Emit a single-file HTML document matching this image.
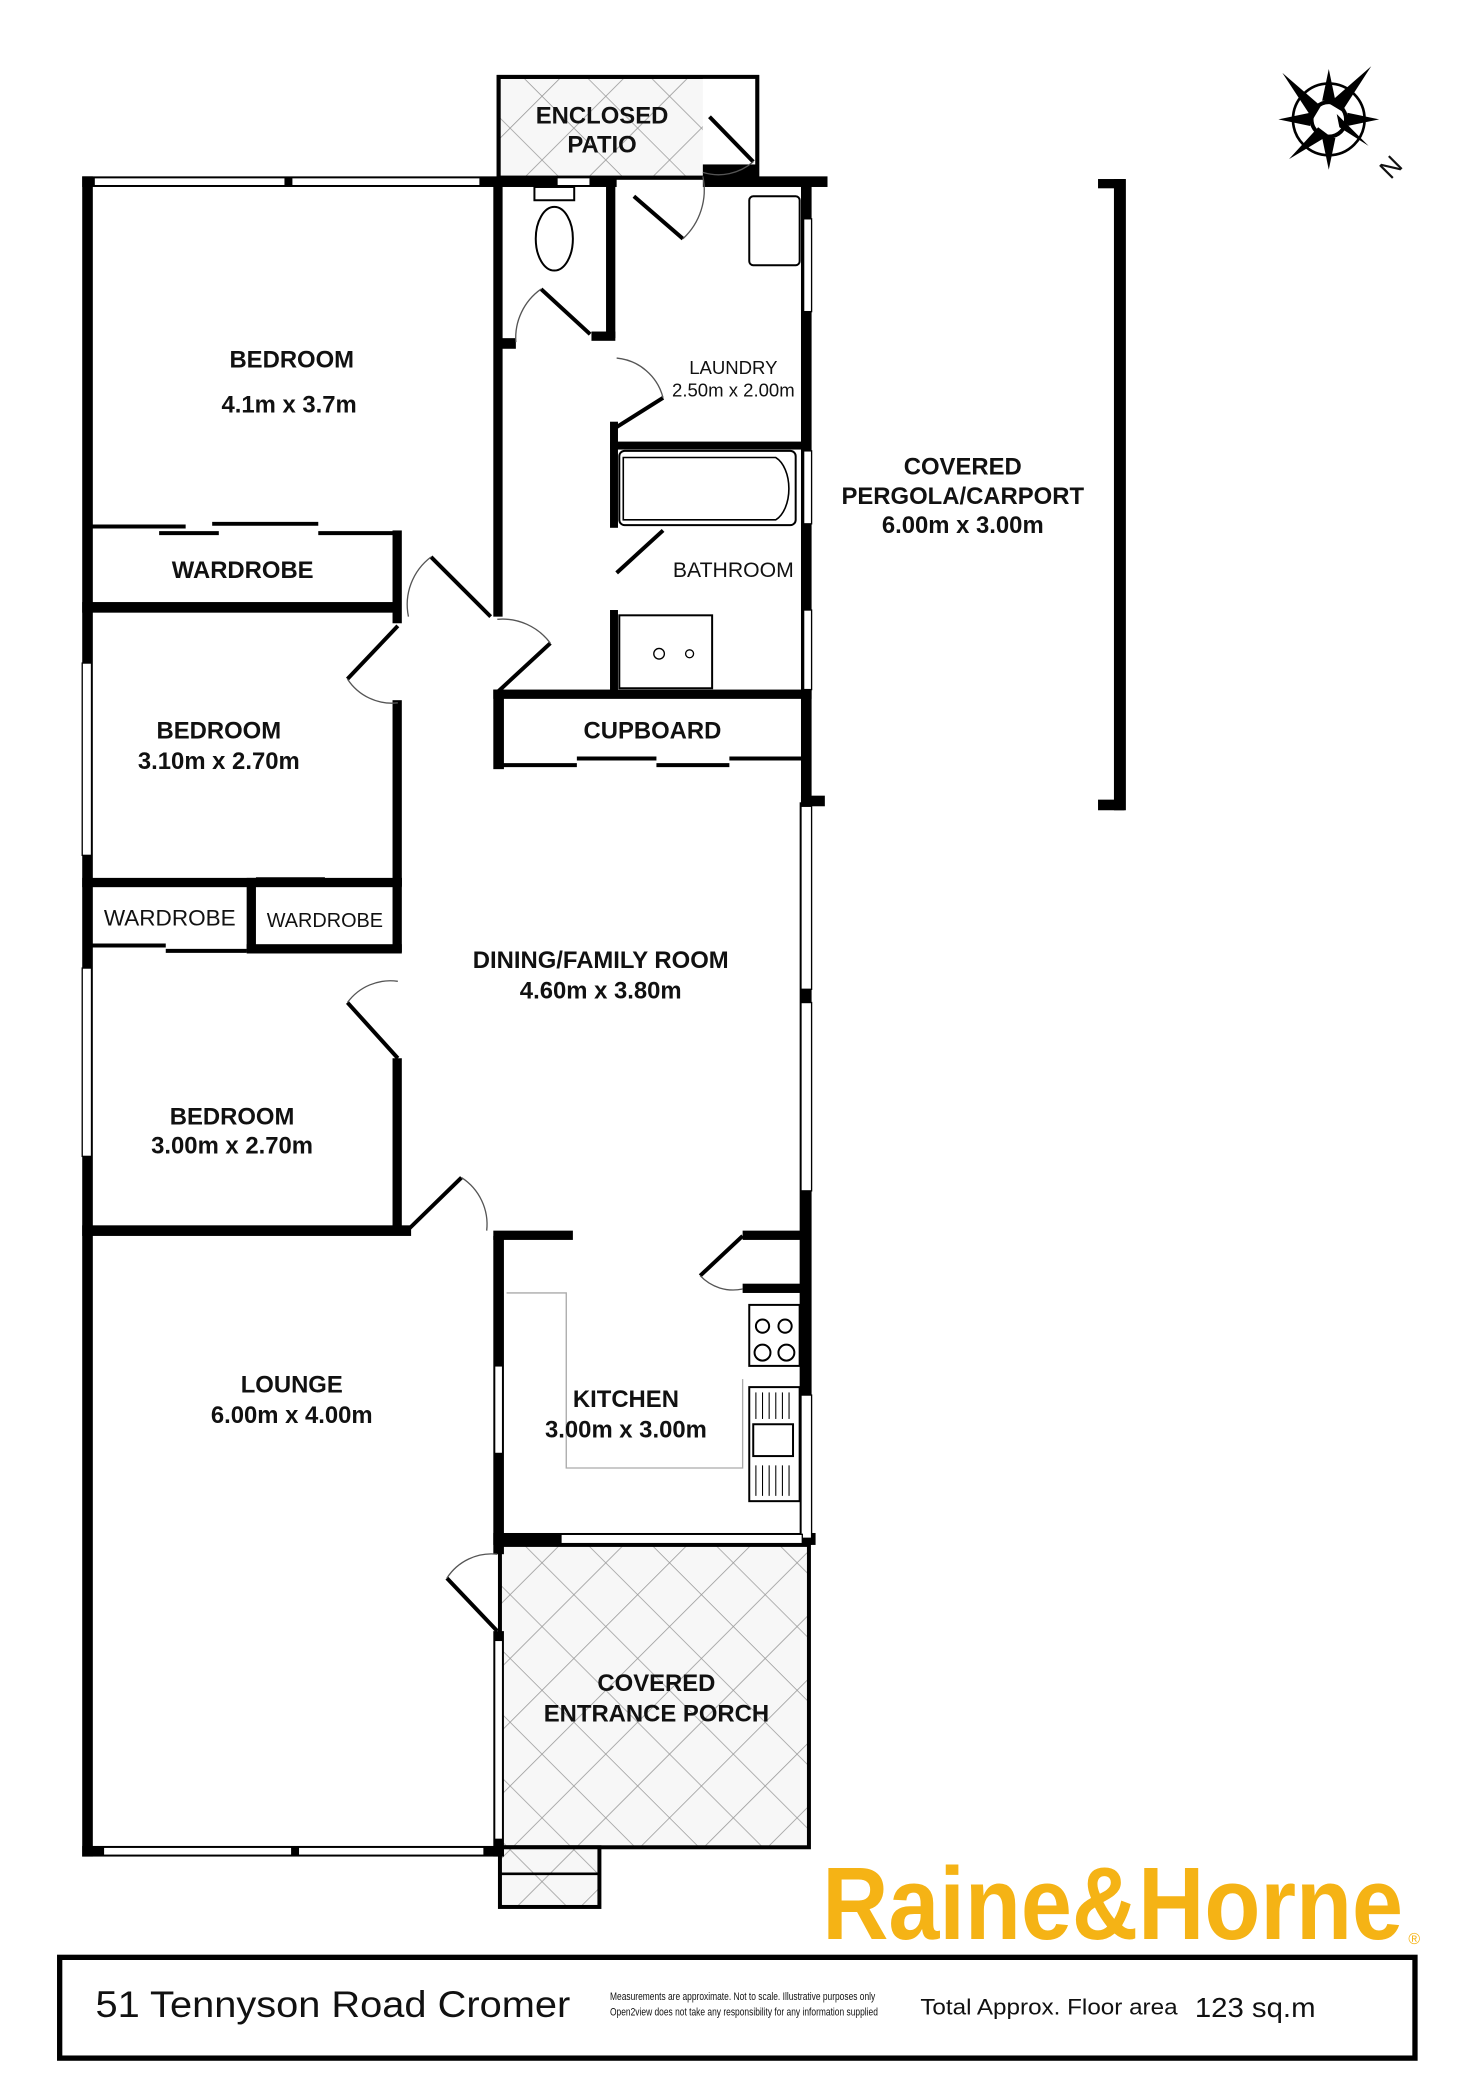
<!DOCTYPE html>
<html><head><meta charset="utf-8"><style>
html,body{margin:0;padding:0;background:#fff;}
svg{display:block;}
text{font-family:"Liberation Sans",sans-serif;fill:#111;}
.b{font-weight:bold;}
</style></head><body>
<svg width="1472" height="2082" viewBox="0 0 1110 1570" preserveAspectRatio="none" xmlns="http://www.w3.org/2000/svg">
<defs>
<pattern id="hatch" width="34" height="34" patternUnits="userSpaceOnUse" patternTransform="rotate(45)">
<rect width="34" height="34" fill="#f7f7f7"/>
<line x1="0" y1="0" x2="34" y2="0" stroke="#999" stroke-width="1.2"/>
<line x1="0" y1="0" x2="0" y2="34" stroke="#999" stroke-width="1.2"/>
</pattern>
</defs>
<rect width="1110" height="1570" fill="#fff"/>

<rect x="376" y="58" width="195" height="76" fill="url(#hatch)" stroke="#000" stroke-width="3"/>
<rect x="530" y="58" width="40" height="76" fill="#fff"/>
<rect x="376" y="58" width="195" height="76" fill="none" stroke="#000" stroke-width="3"/>
<rect x="377" y="1165" width="233" height="228" fill="url(#hatch)" stroke="#000" stroke-width="3"/>
<rect x="377" y="1393" width="75" height="45" fill="url(#hatch)" stroke="#000" stroke-width="3"/>
<line x1="377" y1="1413" x2="452" y2="1413" stroke="#000" stroke-width="2"/>

<g fill="#000">
<rect x="62" y="133" width="8" height="1267"/>
<rect x="62" y="133" width="315" height="8"/>
<rect x="375" y="133" width="90" height="8"/>
<rect x="530" y="133" width="94" height="8"/>
<rect x="604" y="137" width="8" height="470"/>
<rect x="604" y="600" width="18" height="8"/>
<rect x="603" y="605" width="9" height="560"/>
<rect x="372" y="1156" width="243" height="9"/>
<rect x="372" y="932" width="8" height="240"/>
<rect x="372" y="1230" width="8" height="170"/>
<rect x="62" y="1392" width="318" height="8"/>
<rect x="372" y="137" width="7" height="328"/>
<rect x="375" y="255" width="14" height="8"/>
<rect x="457" y="137" width="7" height="118"/>
<rect x="446" y="250" width="18" height="7"/>
<rect x="460" y="318" width="6" height="20"/>
<rect x="460" y="333" width="150" height="6"/>
<rect x="460" y="338" width="6" height="60"/>
<rect x="460" y="460" width="6" height="64"/>
<rect x="372" y="520" width="240" height="7"/>
<rect x="372" y="520" width="8" height="60"/>
<rect x="62" y="454" width="240" height="8"/>
<rect x="296" y="400" width="7" height="70"/>
<rect x="296" y="528" width="7" height="140"/>
<rect x="62" y="662" width="241" height="7"/>
<rect x="186" y="662" width="7" height="56"/>
<rect x="186" y="712" width="117" height="7"/>
<rect x="296" y="662" width="7" height="56"/>
<rect x="296" y="798" width="7" height="130"/>
<rect x="62" y="924" width="248" height="8"/>
<rect x="372" y="928" width="60" height="7"/>
<rect x="560" y="928" width="50" height="7"/>
<rect x="560" y="968" width="45" height="7"/>
<rect x="840" y="135" width="9" height="476"/>
<rect x="828" y="135" width="20" height="7"/>
<rect x="828" y="603" width="20" height="8"/>
<rect x="530" y="124" width="40" height="10"/>
</g>

<g fill="#fff" stroke="#000" stroke-width="1">
<rect x="71" y="134" width="144" height="6"/>
<rect x="220" y="134" width="142" height="6"/>
<rect x="420" y="134" width="25" height="6"/>
<rect x="606" y="165" width="6" height="70"/>
<rect x="606" y="340" width="6" height="55"/>
<rect x="606" y="460" width="6" height="60"/>
<rect x="604" y="608" width="8" height="138"/>
<rect x="604" y="756" width="8" height="142"/>
<rect x="604" y="1052" width="8" height="108"/>
<rect x="62" y="500" width="7" height="145"/>
<rect x="62" y="730" width="7" height="142"/>
<rect x="373" y="1030" width="6" height="66"/>
<rect x="373" y="1237" width="6" height="150"/>
<rect x="78" y="1393" width="142" height="6"/>
<rect x="225" y="1393" width="140" height="6"/>
<rect x="423" y="1157" width="182" height="7"/>
</g>

<g stroke="#000" stroke-width="3">
<line x1="68" y1="397" x2="140" y2="397"/><line x1="120" y1="402" x2="165" y2="402"/>
<line x1="160" y1="395" x2="240" y2="395"/><line x1="240" y1="402" x2="300" y2="402"/>
<line x1="378" y1="577" x2="435" y2="577"/><line x1="435" y1="572" x2="495" y2="572"/>
<line x1="495" y1="577" x2="550" y2="577"/><line x1="550" y1="572" x2="605" y2="572"/>
<line x1="68" y1="713" x2="125" y2="713"/><line x1="125" y1="717" x2="186" y2="717"/>
<line x1="193" y1="663" x2="245" y2="663"/>
</g>

<g stroke="#000" stroke-width="3" fill="none">
<line x1="325" y1="420" x2="370" y2="465"/>
<line x1="300" y1="472" x2="262" y2="512"/>
<line x1="415" y1="485" x2="375" y2="522"/>
<line x1="300" y1="798" x2="262" y2="756"/>
<line x1="307" y1="928" x2="348" y2="888"/>
<line x1="528" y1="962" x2="560" y2="932"/>
<line x1="337" y1="1190" x2="375" y2="1230"/>
<line x1="408" y1="218" x2="445" y2="252"/>
<line x1="500" y1="300" x2="465" y2="322"/>
<line x1="500" y1="400" x2="465" y2="432"/>
<line x1="478" y1="148" x2="515" y2="180"/>
<line x1="535" y1="88" x2="568" y2="122"/>
</g>
<g stroke="#555" stroke-width="1" fill="none">
<path d="M325 420 A45 45 0 0 0 308 465"/>
<path d="M262 512 A40 40 0 0 0 300 530"/>
<path d="M415 485 A45 45 0 0 0 375 467"/>
<path d="M262 756 A40 40 0 0 1 300 740"/>
<path d="M348 888 A42 42 0 0 1 367 928"/>
<path d="M528 962 A34 34 0 0 0 560 972"/>
<path d="M337 1190 A40 40 0 0 1 375 1172"/>
<path d="M408 218 A45 45 0 0 0 389 258"/>
<path d="M465 270 A40 40 0 0 1 500 300"/>
<path d="M515 180 A50 50 0 0 0 530 133"/>
<path d="M568 122 A40 40 0 0 1 530 130"/>
</g>

<g stroke="#000" stroke-width="1.5" fill="#fff">
<rect x="403" y="141" width="30" height="10"/>
<ellipse cx="418" cy="180" rx="14" ry="24"/>
<rect x="565" y="148" width="38" height="52" rx="3"/>
<rect x="467" y="340" width="133" height="56" rx="4"/>
<rect x="467" y="464" width="70" height="55"/>
<rect x="565" y="984" width="38" height="46"/>
<circle cx="575" cy="1000" r="5"/><circle cx="592" cy="1000" r="5"/>
<circle cx="575" cy="1020" r="6"/><circle cx="593" cy="1020" r="6"/>
<rect x="565" y="1046" width="38" height="86"/>
<rect x="568" y="1074" width="30" height="24"/>
</g>
<path d="M470 345 H585 A15 25 0 0 1 585 392 H470 Z" fill="none" stroke="#000" stroke-width="1.2"/>
<circle cx="497" cy="493" r="4" fill="none" stroke="#000"/><circle cx="520" cy="493" r="3" fill="none" stroke="#000"/>
<polyline points="382,975 427,975 427,1107 560,1107 560,1040" fill="none" stroke="#aaa" stroke-width="1"/>
<g stroke="#000" stroke-width="0.8">
<line x1="570" y1="1050" x2="570" y2="1070"/><line x1="575" y1="1050" x2="575" y2="1070"/><line x1="580" y1="1050" x2="580" y2="1070"/><line x1="585" y1="1050" x2="585" y2="1070"/><line x1="590" y1="1050" x2="590" y2="1070"/><line x1="595" y1="1050" x2="595" y2="1070"/>
<line x1="570" y1="1105" x2="570" y2="1128"/><line x1="575" y1="1105" x2="575" y2="1128"/><line x1="580" y1="1105" x2="580" y2="1128"/><line x1="585" y1="1105" x2="585" y2="1128"/><line x1="590" y1="1105" x2="590" y2="1128"/><line x1="595" y1="1105" x2="595" y2="1128"/>
</g>

<g transform="translate(1002,90)">
<circle r="27" fill="none" stroke="#000" stroke-width="2"/>
<circle r="13" fill="#fff" stroke="#000" stroke-width="3"/>
<polygon points="-35,-35 -6,-10 -12,0" fill="#000"/>
<polygon points="32,-40 10,-6 0,-12" fill="#000"/>
<polygon points="-30,30 -8,6 0,12" fill="#000"/>
<polygon points="30,20 8,6 6,-4" fill="#000"/>
<polygon points="0,-38 -5,-14 5,-14" fill="#000"/>
<polygon points="0,38 -5,14 5,14" fill="#000"/>
<polygon points="-38,0 -14,-5 -14,5" fill="#000"/>
<polygon points="38,0 14,-5 14,5" fill="#000"/>
<text x="40" y="42" font-size="20" transform="rotate(-45 48 36)">N</text>
</g>

<g font-size="18" text-anchor="middle" class="b">
<text x="454" y="93">ENCLOSED</text>
<text x="454" y="115">PATIO</text>
<text x="220" y="277">BEDROOM</text>
<text x="218" y="311">4.1m x 3.7m</text>
<text x="183" y="436">WARDROBE</text>
<text x="165" y="557">BEDROOM</text>
<text x="165" y="580">3.10m x 2.70m</text>
<text x="175" y="848">BEDROOM</text>
<text x="175" y="870">3.00m x 2.70m</text>
<text x="220" y="1050">LOUNGE</text>
<text x="220" y="1073">6.00m x 4.00m</text>
<text x="453" y="730">DINING/FAMILY ROOM</text>
<text x="453" y="753">4.60m x 3.80m</text>
<text x="492" y="557">CUPBOARD</text>
<text x="472" y="1061">KITCHEN</text>
<text x="472" y="1084">3.00m x 3.00m</text>
<text x="495" y="1275">COVERED</text>
<text x="495" y="1298">ENTRANCE PORCH</text>
<text x="726" y="358">COVERED</text>
<text x="726" y="380">PERGOLA/CARPORT</text>
<text x="726" y="402">6.00m x 3.00m</text>
</g>
<g text-anchor="middle">
<text x="128" y="698" font-size="17">WARDROBE</text>
<text x="245" y="699" font-size="15">WARDROBE</text>
<text x="553" y="282" font-size="14">LAUNDRY</text>
<text x="553" y="299" font-size="14">2.50m x 2.00m</text>
<text x="553" y="435" font-size="16">BATHROOM</text>
</g>

<text x="620" y="1462" font-size="78" font-weight="bold" style="fill:#F5B315;font-family:'Liberation Sans Narrow','Liberation Sans',sans-serif" textLength="438" lengthAdjust="spacingAndGlyphs">Raine&amp;Horne</text>
<text x="1062" y="1466" font-size="12" style="fill:#F5B315">®</text>

<rect x="45" y="1476" width="1022" height="76" fill="none" stroke="#000" stroke-width="4"/>
<text x="72" y="1521" font-size="28" textLength="358" lengthAdjust="spacingAndGlyphs">51 Tennyson Road Cromer</text>
<text x="460" y="1508" font-size="8" textLength="200" lengthAdjust="spacingAndGlyphs">Measurements are approximate. Not to scale. Illustrative purposes only</text>
<text x="460" y="1520" font-size="8" textLength="202" lengthAdjust="spacingAndGlyphs">Open2view does not take any responsibility for any information supplied</text>
<text x="694" y="1519" font-size="17" textLength="194" lengthAdjust="spacingAndGlyphs">Total Approx. Floor area</text>
<text x="901" y="1521" font-size="21" textLength="91" lengthAdjust="spacingAndGlyphs">123 sq.m</text>
</svg>
</body></html>
